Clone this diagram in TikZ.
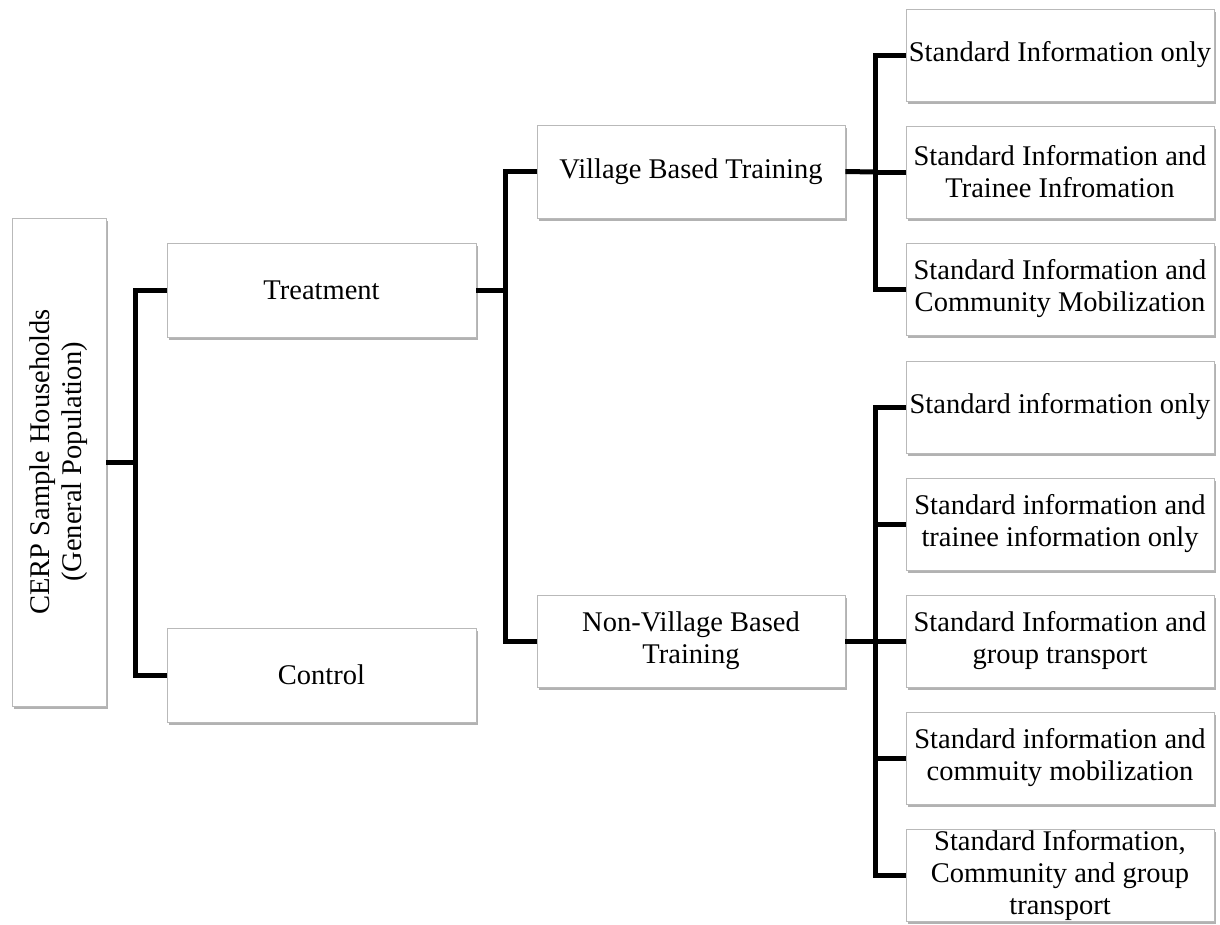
\documentclass[tikz,border=0pt]{standalone}
\usepackage{fontspec}
\setmainfont{Liberation Serif}
\usetikzlibrary{shadows}
\begin{document}
\begin{tikzpicture}[x=1pt,y=1pt,
  box/.style={draw=gray!55, line width=0.8pt, fill=white, inner sep=0pt, align=center,
    font=\fontsize{28.5}{32}\selectfont,
    drop shadow={shadow xshift=1.5pt, shadow yshift=-2.5pt, opacity=0.3, fill=black}},
  midbox/.style={box, minimum width=309, minimum height=94},
  leafbox/.style={box, minimum width=308, minimum height=92},
  conn/.style={line width=5pt, line join=miter, draw=black}]
\useasboundingbox (0,0) rectangle (1220,-924);

% root
\node[box, minimum width=94, minimum height=488] (root) at (59,-462)
  {\rotatebox{90}{\begin{tabular}{@{}c@{}}CERP Sample Households\\(General Population)\end{tabular}}};

% level 1
\node[midbox] (treat) at (321.5,-290) {Treatment};
\node[midbox] (ctrl)  at (321.5,-675) {Control};

% level 2
\node[leafbox, minimum height=93] (vil)  at (691,-171.5) {Village Based Training};
\node[leafbox] (nvil) at (691,-641) {Non-Village Based\\Training};

% level 3
\node[leafbox] (b1) at (1060,-55)  {Standard Information only};
\node[leafbox] (b2) at (1060,-172) {Standard Information and\\Trainee Infromation};
\node[leafbox] (b3) at (1060,-289) {Standard Information and\\Community Mobilization};
\node[leafbox] (b4) at (1060,-407) {Standard information only};
\node[leafbox] (b5) at (1060,-524) {Standard information and\\trainee information only};
\node[leafbox] (b6) at (1060,-641) {Standard Information and\\group transport};
\node[leafbox] (b7) at (1060,-758) {Standard information and\\commuity mobilization};
\node[leafbox] (b8) at (1060,-875) {Standard Information,\\Community and group\\transport};

% junctions
\coordinate (j1) at (135,-462);
\coordinate (j2) at (505,-290);
\coordinate (j3) at (875,-172);
\coordinate (j4) at (875,-641);

% connectors
\draw[conn] (root.east) -- (j1);
\draw[conn] (treat.west) -| (j1);
\draw[conn] (ctrl.west) -| (j1);

\draw[conn] (treat.east) -- (j2);
\draw[conn] (vil.west) -| (j2);
\draw[conn] (nvil.west) -| (j2);

\draw[conn] (vil.east) -- (j3);
\draw[conn] (b1.west) -| (j3);
\draw[conn] (b2.west) -| (j3);
\draw[conn] (b3.west) -| (j3);

\draw[conn] (nvil.east) -- (j4);
\draw[conn] (b4.west) -| (j4);
\draw[conn] (b5.west) -| (j4);
\draw[conn] (b6.west) -| (j4);
\draw[conn] (b7.west) -| (j4);
\draw[conn] (b8.west) -| (j4);
\end{tikzpicture}
\end{document}
